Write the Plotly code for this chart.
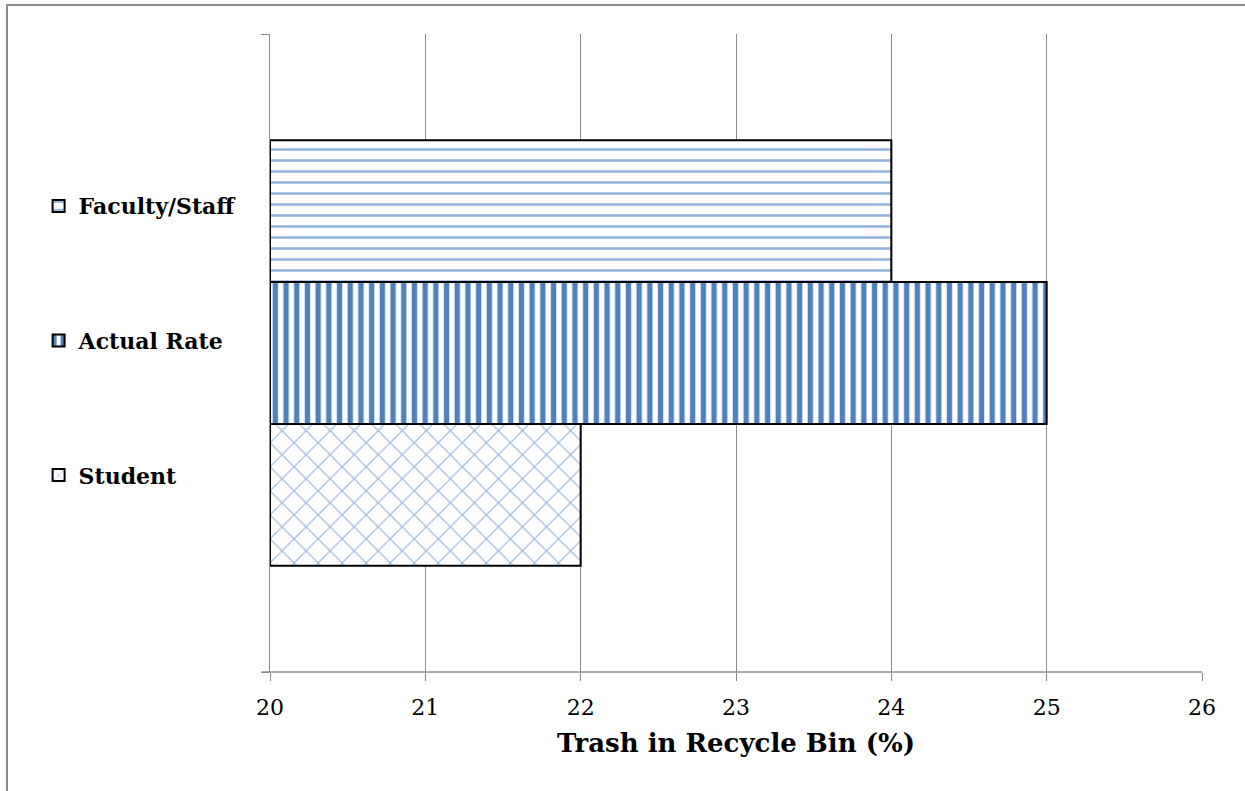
import plotly.graph_objects as go

# Share of trash found in recycle bins, by group
groups = ["Faculty/Staff", "Actual Rate", "Student"]
values = [24, 25, 22]
positions = [2, 1, 0]          # vertical slot of each bar (top to bottom)
axis_start = 20                 # bars are drawn from this base value

blue = "#4F81BD"
light_blue = "#8FB0DC"
patterns = [
    dict(shape="-", fgcolor=light_blue, bgcolor="white", size=11, solidity=0.22, fillmode="replace"),
    dict(shape="|", fgcolor=blue, bgcolor="white", size=10.7, solidity=0.5, fillmode="replace"),
    dict(shape="x", fgcolor=light_blue, bgcolor="white", size=17, solidity=0.12, fillmode="replace"),
]

fig = go.Figure()
for name, val, pos, pat in zip(groups, values, positions, patterns):
    fig.add_trace(go.Bar(
        y=[pos],
        x=[val - axis_start],
        base=[axis_start],
        width=1,
        orientation="h",
        name=name,
        legendgroup=name,
        marker=dict(color="white", pattern=pat, line=dict(color="black", width=2)),
        hoverinfo="x+name",
    ))

serif = "'DejaVu Serif', serif"

fig.update_layout(
    width=1245,
    height=791,
    paper_bgcolor="white",
    plot_bgcolor="white",
    margin=dict(l=270, r=43, t=34, b=119),
    barmode="overlay",
    font=dict(family=serif, color="black", size=21),
    showlegend=True,
    legend=dict(
        xref="container", yref="container",
        x=0.031, xanchor="left",
        y=0.766, yanchor="top",
        traceorder="grouped",
        tracegroupgap=103,
        font=dict(family=serif, size=22, color="black", weight="bold"),
        itemsizing="constant",
        itemwidth=30,
        bgcolor="rgba(0,0,0,0)",
    ),
    xaxis=dict(
        range=[20, 26],
        tickvals=[20, 21, 22, 23, 24, 25, 26],
        showgrid=True, gridcolor="#8C8C8C", gridwidth=1.3,
        showline=False,
        ticks="outside", ticklen=8, tickcolor="#8C8C8C", tickwidth=1.3,
        ticklabelstandoff=8,
        tickfont=dict(family=serif, size=22, color="black"),
        zeroline=False,
        title=dict(text="<b>Trash in Recycle Bin (%)</b>", standoff=14,
                   font=dict(family=serif, size=26, color="black")),
        fixedrange=True,
    ),
    yaxis=dict(
        range=[-1.25, 3.25],
        tickvals=[-1.25, 3.25],
        showticklabels=False,
        ticks="outside", ticklen=8, tickcolor="#8C8C8C", tickwidth=1.3,
        showgrid=False,
        showline=True, linecolor="#8C8C8C", linewidth=1.3,
        zeroline=False,
        fixedrange=True,
    ),
    shapes=[
        # axis line along the bottom of the plot area
        dict(type="line", xref="paper", yref="paper", x0=-0.009, x1=1, y0=0, y1=0,
             line=dict(color="#8C8C8C", width=1.3), layer="below"),
        # outer chart frame
        dict(type="rect", xref="paper", yref="paper",
             x0=(7 - 270) / 932, x1=(1260 - 270) / 932,
             y0=(672 - 800) / 638, y1=(672 - 5) / 638,
             line=dict(color="#8C8C8C", width=2), layer="below"),
    ],
)

fig.write_html("out.html")
